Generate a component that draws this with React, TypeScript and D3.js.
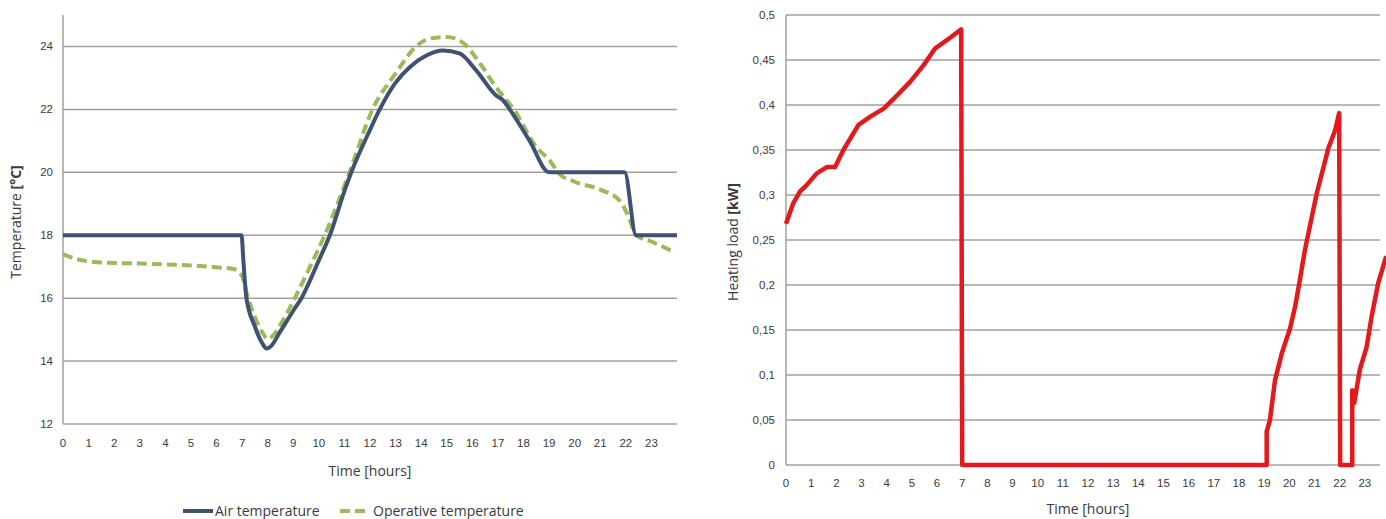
import React from 'react';
import * as d3 from 'd3';

// hours shown on both x axes
const hourTicks = d3.range(0, 24);
const tempTicks = [12, 14, 16, 18, 20, 22, 24];
const loadTicks = [0, 0.05, 0.1, 0.15, 0.2, 0.25, 0.3, 0.35, 0.4, 0.45, 0.5];

// left chart: air temperature
const airTime = [0, 6.98, 7.05, 7.17, 7.5, 7.8, 7.96, 8.1, 8.5, 9, 9.32, 10, 10.43, 11, 11.27, 12, 12.38, 13, 13.55, 14.2, 14.85, 15.5, 16.15, 16.93, 17.2, 17.46, 18.24, 19.0, 21.95, 22.4, 24];
const airTemp = [18, 18, 17.2, 16, 15.1, 14.55, 14.4, 14.45, 14.95, 15.6, 16.0, 17.2, 18.0, 19.4, 20.0, 21.35, 22.0, 22.85, 23.34, 23.71, 23.87, 23.78, 23.24, 22.44, 22.29, 22.0, 21.0, 20.0, 20.0, 18.0, 18.0];

// left chart: operative temperature
const opTime = [0, 0.5, 1, 2, 3, 4, 5, 6, 6.7, 7.0, 7.2, 7.5, 7.8, 8.0, 8.2, 8.6, 9.06, 9.6, 10.23, 11.2, 12.1, 13.0, 13.8, 14.33, 15.0, 15.6, 16.3, 16.93, 17.65, 18.5, 19.0, 19.4, 20, 21, 21.76, 22.1, 22.4, 23, 23.8];
const opTemp = [17.4, 17.25, 17.17, 17.12, 17.1, 17.07, 17.04, 16.98, 16.92, 16.7, 16.1, 15.4, 14.9, 14.7, 14.8, 15.3, 16.0, 16.9, 18.0, 20.0, 22.0, 23.14, 24.0, 24.25, 24.3, 24.14, 23.46, 22.7, 21.97, 20.8, 20.4, 19.95, 19.7, 19.45, 19.1, 18.6, 18.0, 17.8, 17.5];

// right chart: heating load
const loadTime = [0, 0.29, 0.56, 0.82, 1.22, 1.62, 1.95, 2.28, 2.88, 3.35, 3.88, 4.28, 4.94, 5.46, 5.93, 6.39, 6.96, 7.0, 19.1, 19.1, 19.23, 19.43, 19.7, 20.03, 20.23, 20.42, 20.62, 21.09, 21.55, 21.82, 21.98, 22.02, 22.5, 22.5, 22.58, 22.8, 23.07, 23.27, 23.53, 23.85];
const loadKw = [0.268, 0.291, 0.304, 0.311, 0.324, 0.331, 0.331, 0.35, 0.378, 0.387, 0.396, 0.407, 0.426, 0.444, 0.463, 0.472, 0.484, 0, 0, 0.037, 0.05, 0.094, 0.124, 0.152, 0.176, 0.206, 0.239, 0.302, 0.352, 0.372, 0.391, 0, 0, 0.083, 0.069, 0.106, 0.131, 0.165, 0.202, 0.232];

const tickFont = "'Liberation Sans Narrow', 'Liberation Sans', sans-serif";
const labelFont = "'Open Sans', 'Liberation Sans', sans-serif";
const gridColor = '#a59f9c';
const textColor = '#3a3a3a';

const App = () => {
  // left chart scales
  const xL = d3.scaleLinear().domain([0, 24]).range([63, 677]);
  const yL = d3.scaleLinear().domain([12, 25]).range([424, 15]);
  // right chart scales
  const xR = d3.scaleLinear().domain([0, 24]).range([786, 1390]);
  const yR = d3.scaleLinear().domain([0, 0.5]).range([465, 15]);

  const tempLine = d3.line<[number, number]>()
    .x(d => xL(d[0]))
    .y(d => yL(d[1]))
    .curve(d3.curveMonotoneX);

  const loadLine = d3.line<[number, number]>()
    .x(d => xR(d[0]))
    .y(d => yR(d[1]));

  const airPts = airTime.map((t, i) => [t, airTemp[i]] as [number, number]);
  const opPts = opTime.map((t, i) => [t, opTemp[i]] as [number, number]);
  const loadPts = loadTime.map((t, i) => [t, loadKw[i]] as [number, number]);

  return (
    <svg width={1386} height={519} style={{ position: 'absolute', left: 0, top: 0, background: '#fff' }}>
      {/* ---- left chart ---- */}
      <g>
        {tempTicks.map(t => (
          <line key={t} x1={xL(0)} x2={677} y1={yL(t)} y2={yL(t)} stroke={gridColor} strokeWidth={1.5} />
        ))}
        <line x1={xL(0)} x2={xL(0)} y1={yL(25)} y2={yL(12)} stroke={gridColor} strokeWidth={1.5} />
        {tempTicks.map(t => (
          <text key={t} x={53} y={yL(t)} dy="0.35em" textAnchor="end" fontSize={11.5} fill={textColor} fontFamily={tickFont}>{t}</text>
        ))}
        {hourTicks.map(h => (
          <text key={h} x={xL(h)} y={443} dy="0.35em" textAnchor="middle" fontSize={11.5} fill={textColor} fontFamily={tickFont}>{h}</text>
        ))}
        <path d={tempLine(opPts) || ''} fill="none" stroke="#9bbb59" strokeWidth={4} strokeDasharray="10,5" />
        <path d={tempLine(airPts) || ''} fill="none" stroke="#405273" strokeWidth={4} />
        <text x={370} y={476} textAnchor="middle" fontSize={14} fill={textColor} fontFamily={labelFont}>Time [hours]</text>
        <text transform="translate(21,222) rotate(-90)" textAnchor="middle" fontSize={14} fill={textColor} fontFamily={labelFont}>
          Temperature <tspan fontWeight="bold">[°C]</tspan>
        </text>
        {/* legend */}
        <line x1={183} x2={213} y1={511} y2={511} stroke="#405273" strokeWidth={4} />
        <text x={215} y={516} fontSize={14} fill={textColor} fontFamily={labelFont}>Air temperature</text>
        <line x1={340} x2={370} y1={511} y2={511} stroke="#9bbb59" strokeWidth={4} strokeDasharray="10,5" />
        <text x={373} y={516} fontSize={14} fill={textColor} fontFamily={labelFont}>Operative temperature</text>
      </g>

      {/* ---- right chart ---- */}
      <g>
        {loadTicks.map(t => (
          <line key={t} x1={xR(0)} x2={1380} y1={yR(t)} y2={yR(t)} stroke={gridColor} strokeWidth={1.5} />
        ))}
        <line x1={xR(0)} x2={xR(0)} y1={yR(0.5)} y2={yR(0)} stroke={gridColor} strokeWidth={1.5} />
        {loadTicks.map(t => (
          <text key={t} x={775} y={yR(t)} dy="0.35em" textAnchor="end" fontSize={11.5} fill={textColor} fontFamily={tickFont}>
            {String(+t.toFixed(2)).replace('.', ',')}
          </text>
        ))}
        {hourTicks.map(h => (
          <text key={h} x={xR(h)} y={483} dy="0.35em" textAnchor="middle" fontSize={11.5} fill={textColor} fontFamily={tickFont}>{h}</text>
        ))}
        <path d={loadLine(loadPts) || ''} fill="none" stroke="#e3191c" strokeWidth={4.5} strokeLinejoin="round" />
        <text x={1088} y={514} textAnchor="middle" fontSize={14} fill={textColor} fontFamily={labelFont}>Time [hours]</text>
        <text transform="translate(738,242) rotate(-90)" textAnchor="middle" fontSize={14} fill={textColor} fontFamily={labelFont}>
          Heating load <tspan fontWeight="bold">[kW]</tspan>
        </text>
      </g>
    </svg>
  );
};

export default App;
